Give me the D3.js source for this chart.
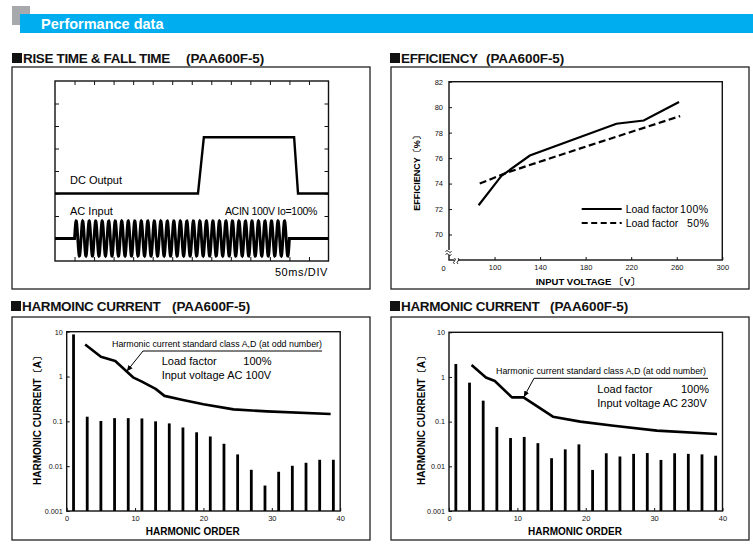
<!DOCTYPE html>
<html>
<head>
<meta charset="utf-8">
<script src="https://cdn.jsdelivr.net/npm/d3@7"></script>
<style>
  body { margin: 0; background: #fff; }
  svg { display: block; font-family: "Liberation Sans", Arial, Helvetica, sans-serif; }
</style>
</head>
<body>
<svg id="sheet" width="753" height="545"></svg>
<script>
// --- rise / fall time trace (time in ms, level in screen divisions)
var dcTimes  = [0, 366, 381, 612, 622, 700]
var dcLevels = [3, 3, 5.5, 5.5, 3, 3]
var acOnOff  = [50, 600]     // ms
var acFreq   = 60            // Hz
var acLevel  = 1             // div
var acAmp    = 0.78          // div

// --- efficiency (%)
var effVolts100 = [86, 106, 131, 207, 231, 262]
var eff100      = [72.3, 74.6, 76.2, 78.7, 78.95, 80.4]
var effVolts50  = [87, 112, 180, 263]
var eff50       = [74.0, 74.9, 76.9, 79.3]
var effYTicks   = [70, 72, 74, 76, 78, 80, 82]
var effXTicks   = [100, 140, 180, 220, 260, 300]

// --- harmonic current (A)
var orders  = [1, 3, 5, 7, 9, 11, 13, 15, 17, 19, 21, 23, 25, 27, 29, 31, 33, 35, 37, 39]
var harm100 = [8.7, 0.127, 0.102, 0.118, 0.118, 0.116, 0.100, 0.090, 0.073, 0.057,
               0.046, 0.0316, 0.0183, 0.0083, 0.0037, 0.0075, 0.0102, 0.0119, 0.0139, 0.0139]
var harm230 = [1.95, 0.746, 0.295, 0.076, 0.043, 0.0455, 0.033, 0.0152, 0.024, 0.031,
               0.0083, 0.0196, 0.0166, 0.019, 0.0198, 0.0139, 0.0196, 0.019, 0.0185, 0.0173]
var limOrders100 = [2.7, 5.0, 7.1, 9.7, 11, 13, 14.3, 17, 20, 24.4, 29.3, 38.6]
var lim100       = [5.2, 2.77, 2.22, 0.96, 0.77, 0.53, 0.37, 0.30, 0.24, 0.185, 0.167, 0.146]
var limOrders230 = [3.3, 5.4, 6.7, 9.2, 10.9, 15.2, 19.2, 24.1, 30.4, 39.2]
var lim230       = [1.85, 0.97, 0.81, 0.35, 0.35, 0.129, 0.10, 0.081, 0.063, 0.053]
var harmYTicks  = [0.001, 0.01, 0.1, 1, 10]
var harmYLabels = ["0.001", "0.01", "0.1", "1", "10"]
var harmXTicks  = [0, 10, 20, 30, 40]

var svg = d3.select("#sheet")

// header bar
svg.append("rect").attr("x", 12).attr("y", 6).attr("width", 18).attr("height", 19).attr("fill", "#a7a9ac")
svg.append("rect").attr("x", 20).attr("y", 14).attr("width", 733).attr("height", 19).attr("fill", "#00aeef")
svg.append("text").attr("x", 41).attr("y", 29).attr("fill", "#fff")
   .attr("font-size", 14.5).attr("font-weight", "bold").text("Performance data")

function section(x, base, title, sub, subX, box) {
    svg.append("rect").attr("x", x).attr("y", base - 10).attr("width", 10).attr("height", 10).attr("fill", "#111")
    svg.append("text").attr("x", x + 11).attr("y", base).attr("font-size", 13.5).attr("font-weight", "bold")
       .attr("letter-spacing", -0.35).attr("fill", "#111").text(title)
    svg.append("text").attr("x", subX).attr("y", base).attr("font-size", 13.5).attr("font-weight", "bold")
       .attr("letter-spacing", -0.1).attr("fill", "#111").text(sub)
    svg.append("rect").attr("x", box[0]).attr("y", box[1]).attr("width", box[2]).attr("height", box[3])
       .attr("fill", "none").attr("stroke", "#222").attr("stroke-width", 1.3)
}

function frame(x0, y0, x1, y1) {
    svg.append("rect").attr("x", x0).attr("y", y0).attr("width", x1 - x0).attr("height", y1 - y0)
       .attr("fill", "none").attr("stroke", "#111").attr("stroke-width", 1.4)
}

function cleanAxis(g, size) {
    g.select(".domain").remove()
    g.selectAll(".tick line").attr("stroke", "#111")
    g.selectAll(".tick text").attr("font-family", "Liberation Sans, Arial, sans-serif")
     .attr("font-size", size || 7.5).attr("fill", "#111")
}

// ================= RISE TIME & FALL TIME
section(12, 63, "RISE TIME & FALL TIME", "(PAA600F-5)", 186, [12, 67, 358, 222])

var rx = d3.scaleLinear().domain([0, 700]).range([55, 328.5])
var ry = d3.scaleLinear().domain([0, 8]).range([261, 81])
frame(55, 81, 328.5, 261)

var divT = d3.range(50, 700, 50)
var divV = d3.range(1, 8)
svg.append("g").attr("transform", "translate(0,81)")
   .call(d3.axisTop(rx).tickValues(divT).tickSize(-4).tickFormat("")).call(cleanAxis)
svg.append("g").attr("transform", "translate(0,261)")
   .call(d3.axisBottom(rx).tickValues(divT).tickSize(-4).tickFormat("")).call(cleanAxis)
svg.append("g").attr("transform", "translate(55,0)")
   .call(d3.axisLeft(ry).tickValues(divV).tickSize(-4).tickFormat("")).call(cleanAxis)
svg.append("g").attr("transform", "translate(328.5,0)")
   .call(d3.axisRight(ry).tickValues(divV).tickSize(-4).tickFormat("")).call(cleanAxis)

var dcLine = d3.line().x(d => rx(d[0])).y(d => ry(d[1]))
svg.append("path").attr("d", dcLine(d3.zip(dcTimes, dcLevels)))
   .attr("fill", "none").attr("stroke", "#000").attr("stroke-width", 2.4).attr("stroke-linejoin", "miter")

// AC input: flat, then the mains sine while on, then flat again
var acPts = [[0, acLevel]]
for (var t = acOnOff[0]; t <= acOnOff[1]; t += 0.4) {
    acPts.push([t, acLevel + acAmp * Math.sin(2 * Math.PI * acFreq * (t - acOnOff[0]) / 1000)])
}
acPts.push([acOnOff[1], acLevel], [700, acLevel])
svg.append("path").attr("d", dcLine(acPts))
   .attr("fill", "none").attr("stroke", "#000").attr("stroke-width", 2.9)

svg.append("text").attr("x", 70).attr("y", 184).attr("font-size", 11).text("DC Output")
svg.append("text").attr("x", 70).attr("y", 215).attr("font-size", 11).text("AC Input")
svg.append("text").attr("x", 317).attr("y", 215).attr("font-size", 10.5).attr("text-anchor", "end")
   .attr("letter-spacing", -0.3).text("ACIN 100V Io=100%")
svg.append("text").attr("x", 328).attr("y", 276).attr("font-size", 11).attr("text-anchor", "end")
   .attr("letter-spacing", 0.6).text("50ms/DIV")

// ================= EFFICIENCY
section(390, 63, "EFFICIENCY", "(PAA600F-5)", 486, [391, 67, 358, 222])

var ex = d3.scaleLinear().domain([60, 300]).range([449, 722.3])
var ey = d3.scaleLinear().domain([68, 82]).range([260, 81.7])
frame(449, 81.7, 722.3, 260)

svg.append("g").attr("transform", "translate(449,0)")
   .call(d3.axisLeft(ey).tickValues(effYTicks).tickSize(-3).tickPadding(6)).call(cleanAxis, 7.5)
svg.append("g").attr("transform", "translate(0,260)")
   .call(d3.axisBottom(ex).tickValues(effXTicks).tickSize(-3).tickPadding(5)).call(cleanAxis, 7.5)
svg.append("text").attr("x", 443.5).attr("y", 270.5).attr("font-size", 7.5).attr("text-anchor", "middle").text("0")

// axis break marks
var brk = svg.append("g").attr("fill", "none").attr("stroke", "#111").attr("stroke-width", 0.9)
brk.append("rect").attr("x", 446).attr("y", 250).attr("width", 6).attr("height", 5).attr("fill", "#fff").attr("stroke", "none")
brk.append("path").attr("d", "M445.5,251.5 q1.5,-2 3,0 t3,0 M445.5,254.5 q1.5,-2 3,0 t3,0")
brk.append("rect").attr("x", 454.5).attr("y", 258).attr("width", 3.5).attr("height", 4).attr("fill", "#fff").attr("stroke", "none")
brk.append("path").attr("d", "M454.5,264 q-2,-1.5 0,-3 t0,-3 M458,264 q-2,-1.5 0,-3 t0,-3")

var effLine = d3.line().x(d => ex(d[0])).y(d => ey(d[1]))
svg.append("path").attr("d", effLine(d3.zip(effVolts100, eff100)))
   .attr("fill", "none").attr("stroke", "#000").attr("stroke-width", 2.2)
svg.append("path").attr("d", effLine(d3.zip(effVolts50, eff50)))
   .attr("fill", "none").attr("stroke", "#000").attr("stroke-width", 2.2).attr("stroke-dasharray", "7,3.5")

// legend
svg.append("line").attr("x1", 581.7).attr("x2", 621.7).attr("y1", 209).attr("y2", 209)
   .attr("stroke", "#000").attr("stroke-width", 2.2)
svg.append("line").attr("x1", 581.7).attr("x2", 621.7).attr("y1", 223).attr("y2", 223)
   .attr("stroke", "#000").attr("stroke-width", 2.2).attr("stroke-dasharray", "6,3.5")
svg.append("text").attr("x", 625.7).attr("y", 213).attr("font-size", 10.5).text("Load factor")
svg.append("text").attr("x", 680).attr("y", 213).attr("font-size", 10.5).attr("letter-spacing", 0.4).text("100%")
svg.append("text").attr("x", 625.7).attr("y", 227).attr("font-size", 10.5).text("Load factor")
svg.append("text").attr("x", 687).attr("y", 227).attr("font-size", 10.5).attr("letter-spacing", 0.4).text("50%")

svg.append("text").attr("transform", "translate(420,171) rotate(-90)").attr("text-anchor", "middle")
   .attr("font-size", 9).attr("font-weight", "bold").text("EFFICIENCY〔%〕")
svg.append("text").attr("x", 588).attr("y", 285).attr("text-anchor", "middle")
   .attr("font-size", 9.5).attr("font-weight", "bold").text("INPUT VOLTAGE 〔V〕")

// ================= HARMONIC CURRENT panels
svg.append("defs").append("marker").attr("id", "arrow").attr("viewBox", "0 0 8 8")
   .attr("refX", 7.5).attr("refY", 4).attr("markerWidth", 6).attr("markerHeight", 6)
   .attr("markerUnits", "userSpaceOnUse").attr("orient", "auto")
   .append("path").attr("d", "M0,0.5 L8,4 L0,7.5 z").attr("fill", "#000")

function harmonicPanel(p) {
    section(p.boxX, 311, p.title, "(PAA600F-5)", p.subX, [p.boxX + 1, 317, 358, 223])

    var hx = d3.scaleLinear().domain([0, 40]).range([p.left, p.left + 273.5])
    var hy = d3.scaleLog().domain([0.001, 10]).range([511, p.top])
    frame(p.left, p.top, p.left + 273.5, 511)

    svg.append("g").attr("transform", `translate(${p.left},0)`)
       .call(d3.axisLeft(hy).tickValues(harmYTicks).tickSize(-3).tickPadding(4)
               .tickFormat((d, i) => harmYLabels[i])).call(cleanAxis, 7.2)
    svg.append("g").attr("transform", "translate(0,511)")
       .call(d3.axisBottom(hx).tickValues(harmXTicks).tickSize(-3).tickPadding(5)).call(cleanAxis, 7.5)

    svg.append("g").selectAll("rect")
       .data(d3.zip(orders, p.values))
       .join("rect")
       .attr("x", d => hx(d[0]) - 1.4)
       .attr("width", 2.8)
       .attr("y", d => hy(d[1]))
       .attr("height", d => 511 - hy(d[1]))
       .attr("fill", "#000")

    var limLine = d3.line().x(d => hx(d[0])).y(d => hy(d[1]))
    svg.append("path").attr("d", limLine(d3.zip(p.limOrders, p.limits)))
       .attr("fill", "none").attr("stroke", "#000").attr("stroke-width", 2.6).attr("stroke-linejoin", "round")

    // annotation leader
    var a = p.note
    svg.append("text").attr("x", a.tx).attr("y", a.ty).attr("font-size", 9.5)
       .attr("textLength", 210).attr("lengthAdjust", "spacingAndGlyphs")
       .text("Harmonic current standard class A,D (at odd number)")
    svg.append("path").attr("d", `M${a.lineEnd},${a.lineY} H${a.elbowX} L${a.tipX},${a.tipY}`)
       .attr("fill", "none").attr("stroke", "#000").attr("stroke-width", 1).attr("marker-end", "url(#arrow)")

    svg.append("text").attr("x", a.infoX).attr("y", a.infoY).attr("font-size", 11).text("Load factor")
    svg.append("text").attr("x", a.pctX).attr("y", a.infoY).attr("font-size", 11).text("100%")
    svg.append("text").attr("x", a.infoX).attr("y", a.infoY + 14).attr("font-size", 11).text(p.inputText)

    svg.append("text").attr("transform", `translate(${p.ylabX},${418}) rotate(-90)`).attr("text-anchor", "middle")
       .attr("font-size", 10).attr("font-weight", "bold").text("HARMONIC CURRENT〔A〕")
    svg.append("text").attr("x", p.left + 126).attr("y", 535).attr("text-anchor", "middle")
       .attr("font-size", 10).attr("font-weight", "bold").text("HARMONIC ORDER")
}

harmonicPanel({
    boxX: 11, title: "HARMOINC CURRENT", subX: 172, left: 66.7, top: 331.7,
    values: harm100, limOrders: limOrders100, limits: lim100,
    inputText: "Input voltage AC 100V", ylabX: 41,
    note: { tx: 112, ty: 347, lineY: 351, lineEnd: 322, elbowX: 143, tipX: 127, tipY: 371,
            infoX: 161.7, infoY: 365, pctX: 243.3 }
})
harmonicPanel({
    boxX: 390, title: "HARMONIC CURRENT", subX: 550, left: 449, top: 332.3,
    values: harm230, limOrders: limOrders230, limits: lim230,
    inputText: "Input voltage AC 230V", ylabX: 425,
    note: { tx: 496, ty: 374, lineY: 378.3, lineEnd: 708, elbowX: 534, tipX: 524, tipY: 396.7,
            infoX: 597.3, infoY: 393.3, pctX: 681 }
})
</script>
</body>
</html>
